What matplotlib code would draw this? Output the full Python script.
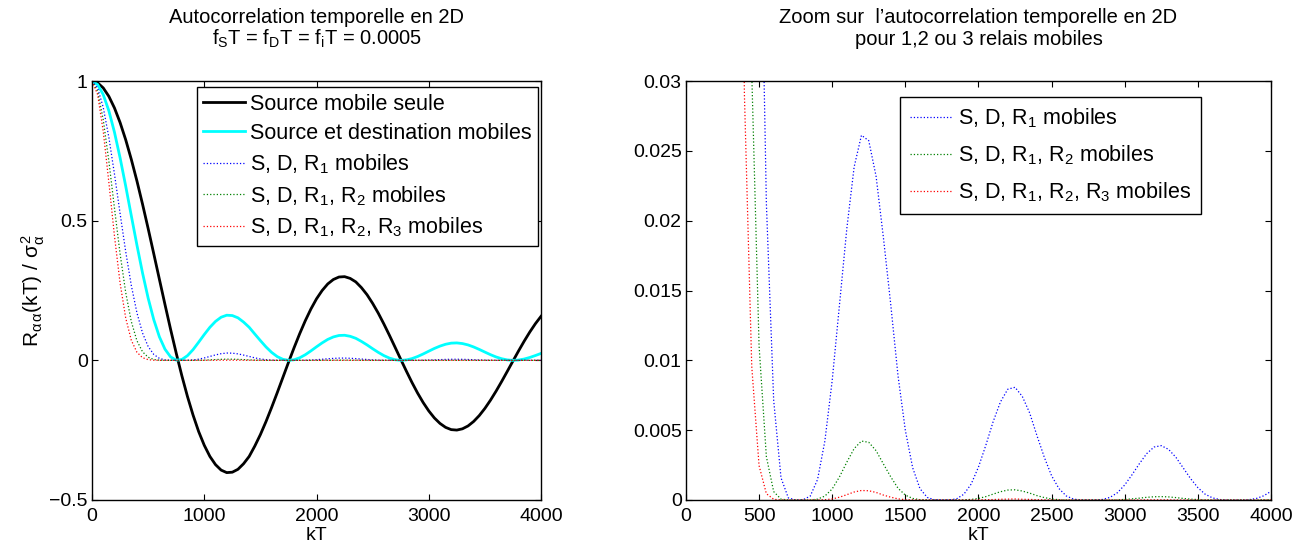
import numpy as np
import matplotlib
matplotlib.use("Agg")
import matplotlib.pyplot as plt

# kT sample positions (step 50)
kT = list(range(0, 4001, 50))

# Source mobile seule
r_src = [
    1.0000, 0.9938, 0.9755, 0.9453, 0.9037, 0.8516, 0.7900, 0.7196, 0.6425, 0.5593,
    0.4720, 0.3818, 0.2906, 0.1998, 0.1110, 0.0259, -0.0547, -0.1291, -0.1958, -0.2550,
    -0.3042, -0.3440, -0.3734, -0.3930, -0.4020, -0.4005, -0.3902, -0.3703, -0.3441, -0.3071,
    -0.2658, -0.2192, -0.1687, -0.1159, -0.0617, -0.0075, 0.0451, 0.0953, 0.1419, 0.1838,
    0.2203, 0.2500, 0.2736, 0.2895, 0.2984, 0.2997, 0.2934, 0.2809, 0.2604, 0.2351,
    0.2040, 0.1691, 0.1303, 0.0893, 0.0468, 0.0040, -0.0382, -0.0789, -0.1168, -0.1510,
    -0.1811, -0.2063, -0.2259, -0.2400, -0.2481, -0.2497, -0.2452, -0.2349, -0.2188, -0.1977,
    -0.1721, -0.1426, -0.1101, -0.0753, -0.0391, -0.0025, 0.0337, 0.0686, 0.1014, 0.1313,
    0.1576,
]

# Source et destination mobiles
r_sd = [
    1.0000, 0.9877, 0.9516, 0.8936, 0.8167, 0.7252, 0.6241, 0.5178, 0.4128, 0.3128,
    0.2228, 0.1458, 0.0844, 0.0399, 0.0123, 0.0007, 0.0030, 0.0167, 0.0383, 0.0650,
    0.0925, 0.1183, 0.1394, 0.1544, 0.1616, 0.1604, 0.1523, 0.1371, 0.1184, 0.0943,
    0.0707, 0.0480, 0.0285, 0.0134, 0.0038, 0.0001, 0.0020, 0.0091, 0.0201, 0.0338,
    0.0485, 0.0625, 0.0749, 0.0838, 0.0890, 0.0898, 0.0861, 0.0789, 0.0678, 0.0553,
    0.0416, 0.0286, 0.0170, 0.0080, 0.0022, 0.0000, 0.0015, 0.0062, 0.0136, 0.0228,
    0.0328, 0.0426, 0.0510, 0.0576, 0.0616, 0.0624, 0.0601, 0.0552, 0.0479, 0.0391,
    0.0296, 0.0203, 0.0121, 0.0057, 0.0015, 0.0000, 0.0011, 0.0047, 0.0103, 0.0172,
    0.0248,
]

# S, D, R1 mobiles
r_r1 = [
    1.0000, 0.9755, 0.9055, 0.7984, 0.6670, 0.5260, 0.3895, 0.2681, 0.1704, 0.0978,
    0.04960, 0.02125, 0.00713, 0.00159, 0.00015, 0.0, 0.00001, 0.00028, 0.00147, 0.00423,
    0.00856, 0.01400, 0.01944, 0.02385, 0.02612, 0.02573, 0.02318, 0.01880, 0.01402, 0.00889,
    0.00499, 0.00231, 0.00081, 0.00018, 0.00001, 0.0, 0.0, 0.00008, 0.00041, 0.00114,
    0.00236, 0.00391, 0.00560, 0.00702, 0.00793, 0.00807, 0.00741, 0.00623, 0.00460, 0.00306,
    0.00173, 0.00082, 0.00029, 0.00006, 0.0, 0.0, 0.0, 0.00004, 0.00019, 0.00052,
    0.00108, 0.00181, 0.00260, 0.00332, 0.00379, 0.00389, 0.00362, 0.00305, 0.00229, 0.00153,
    0.00088, 0.00041, 0.00015, 0.00003, 0.0, 0.0, 0.0, 0.00002, 0.00011, 0.00030,
    0.00062,
]

# S, D, R1, R2 mobiles
r_r2 = [
    1.0000, 0.9635, 0.8617, 0.7133, 0.5447, 0.3815, 0.2431, 0.1388, 0.0703, 0.0306,
    0.01106, 0.00310, 0.00060, 0.00006, 0.0, 0.0, 0.0, 0.0, 0.00006, 0.00028,
    0.00079, 0.00166, 0.00271, 0.00368, 0.00422, 0.00413, 0.00353, 0.00258, 0.00166, 0.00084,
    0.00035, 0.00011, 0.00002, 0.0, 0.0, 0.0, 0.0, 0.0, 0.00001, 0.00004,
    0.00011, 0.00024, 0.00042, 0.00059, 0.00071, 0.00073, 0.00064, 0.00049, 0.00031, 0.00017,
    0.00007, 0.00002, 0.0, 0.0, 0.0, 0.0, 0.0, 0.0, 0.0, 0.00001,
    0.00004, 0.00008, 0.00013, 0.00019, 0.00023, 0.00024, 0.00022, 0.00017, 0.00011, 0.00006,
    0.00003, 0.00001, 0.0, 0.0, 0.0, 0.0, 0.0, 0.0, 0.0, 0.00001,
    0.00002,
]

# S, D, R1, R2, R3 mobiles
r_r3 = [
    1.0000, 0.9517, 0.8200, 0.6374, 0.4449, 0.2767, 0.1517, 0.0719, 0.0290, 0.00958,
    0.00246, 0.00045, 0.00005, 0.0, 0.0, 0.0, 0.0, 0.0, 0.0, 0.00002,
    0.00007, 0.00020, 0.00038, 0.00057, 0.00068, 0.00066, 0.00054, 0.00035, 0.00020, 0.00008,
    0.00002, 0.00001, 0.0, 0.0, 0.0, 0.0, 0.0, 0.0, 0.0, 0.0,
    0.00001, 0.00002, 0.00003, 0.00005, 0.00006, 0.00007, 0.00005, 0.00004, 0.00002, 0.00001,
    0.0, 0.0, 0.0, 0.0, 0.0, 0.0, 0.0, 0.0, 0.0, 0.0,
    0.0, 0.0, 0.0, 0.00001, 0.00001, 0.00001, 0.00001, 0.0, 0.0, 0.0,
    0.0, 0.0, 0.0, 0.0, 0.0, 0.0, 0.0, 0.0, 0.0, 0.0,
    0.0,
]

lbl_src = "Source mobile seule"
lbl_sd = "Source et destination mobiles"
lbl_r1 = r"S, D, R$_1$ mobiles"
lbl_r2 = r"S, D, R$_1$, R$_2$ mobiles"
lbl_r3 = r"S, D, R$_1$, R$_2$, R$_3$ mobiles"

BLUE = "#0000FF"
GREEN = "#008000"
RED = "#FF0000"
CYAN = "#00FFFF"

plt.rcParams.update({
    "font.family": ["Liberation Sans", "DejaVu Sans"],
    "mathtext.fontset": "custom",
    "mathtext.rm": "Liberation Sans",
    "mathtext.it": "Liberation Sans",
    "mathtext.bf": "Liberation Sans:bold",
    "font.size": 14,
    "xtick.direction": "in",
    "ytick.direction": "in",
    "xtick.top": True,
    "ytick.right": True,
    "xtick.major.size": 4,
    "ytick.major.size": 4,
    "xtick.major.pad": 6,
    "ytick.major.pad": 3,
    "axes.linewidth": 1.0,
    "legend.fancybox": False,
    "legend.edgecolor": "black",
    "legend.framealpha": 1.0,
})

fig = plt.figure(figsize=(13.09, 5.49), dpi=100)
ax1 = fig.add_axes([0.0703, 0.0893, 0.343, 0.763])
ax2 = fig.add_axes([0.524, 0.0893, 0.447, 0.763])

# ── gauche : autocorrélation complète ──
ax1.plot(kT, r_src, color="black", lw=2.0, label=lbl_src)
ax1.plot(kT, r_sd, color=CYAN, lw=2.0, label=lbl_sd)
ax1.plot(kT, r_r1, ":", color=BLUE, lw=0.9, label=lbl_r1)
ax1.plot(kT, r_r2, ":", color=GREEN, lw=0.9, label=lbl_r2)
ax1.plot(kT, r_r3, ":", color=RED, lw=0.9, label=lbl_r3)

ax1.set_xlim(0, 4000)
ax1.set_ylim(-0.5, 1)
ax1.set_xticks([0, 1000, 2000, 3000, 4000])
ax1.set_yticks([-0.5, 0, 0.5, 1])
ax1.set_yticklabels(["\u22120.5", "0", "0.5", "1"])
ax1.set_xlabel("kT", labelpad=1)
ax1.set_ylabel(r"R$_{\alpha\,\alpha}$(kT) / $\sigma^2_\alpha$", fontsize=15, labelpad=2)
ax1.set_title("Autocorrelation temporelle en 2D\n"
              r"f$_\mathrm{S}$T = f$_\mathrm{D}$T = f$_\mathrm{i}$T = 0.0005",
              fontsize=14.5, pad=26, linespacing=1.05)
ax1.legend(loc="upper right", bbox_to_anchor=(0.993, 0.985), handlelength=1.95,
           borderaxespad=0, handletextpad=0.2, labelspacing=0.38,
           borderpad=0.3, fontsize=15.5)

# ── droite : zoom ──
ax2.plot(kT, r_r1, ":", color=BLUE, lw=0.9, label=lbl_r1)
ax2.plot(kT, r_r2, ":", color=GREEN, lw=0.9, label=lbl_r2)
ax2.plot(kT, r_r3, ":", color=RED, lw=0.9, label=lbl_r3)

ax2.set_xlim(0, 4000)
ax2.set_ylim(0, 0.03)
ax2.set_xticks(range(0, 4001, 500))
ax2.set_yticks([0, 0.005, 0.01, 0.015, 0.02, 0.025, 0.03])
ax2.set_yticklabels(["0", "0.005", "0.01", "0.015", "0.02", "0.025", "0.03"])
ax2.set_xlabel("kT", labelpad=1)
ax2.set_title("Zoom sur  l\u2019autocorrelation temporelle en 2D\n"
              "pour 1,2 ou 3 relais mobiles", fontsize=14.5, pad=26, linespacing=1.2)
ax2.legend(loc="upper left", bbox_to_anchor=(0.366, 0.962), handlelength=1.9,
           borderaxespad=0, handletextpad=0.35, labelspacing=0.62,
           borderpad=0.45, fontsize=15.5)

fig.savefig("out.png", dpi=100, facecolor="white")
